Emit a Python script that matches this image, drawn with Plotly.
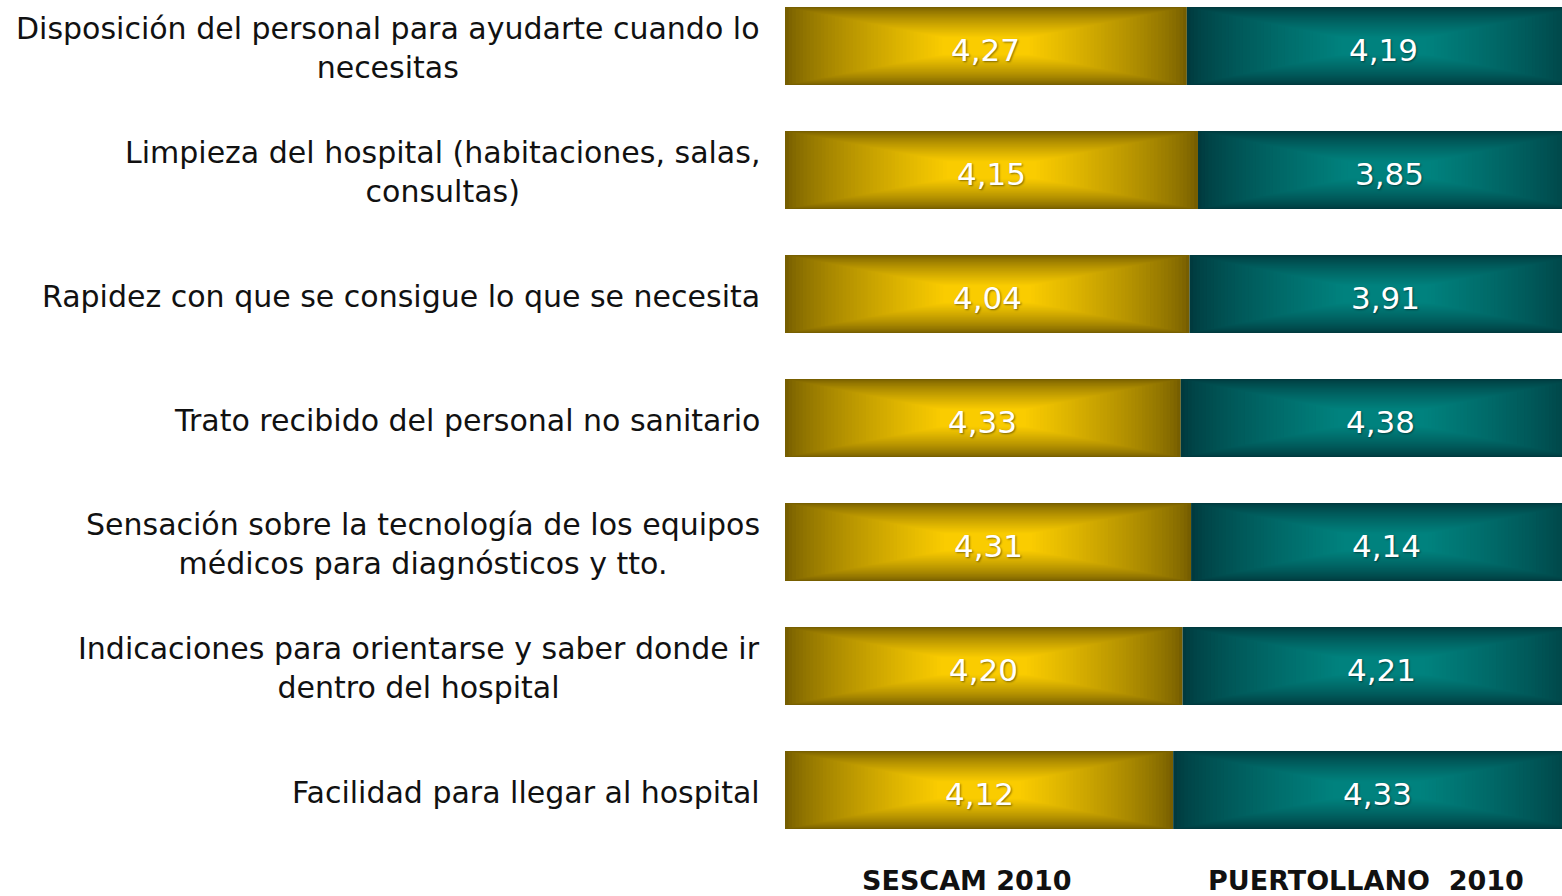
import plotly.graph_objects as go

categories = [
    "Disposición del personal para ayudarte cuando lo<br>necesitas",
    "Limpieza del hospital (habitaciones, salas,<br>consultas)",
    "Rapidez con que se consigue lo que se necesita",
    "Trato recibido del personal no sanitario",
    "Sensación sobre la tecnología de los equipos<br>médicos para diagnósticos y tto.",
    "Indicaciones para orientarse y saber donde ir<br>dentro del hospital",
    "Facilidad para llegar al hospital",
]
sescam = [4.27, 4.15, 4.04, 4.33, 4.31, 4.20, 4.12]
puertollano = [4.19, 3.85, 3.91, 4.38, 4.14, 4.21, 4.33]
series_names = ["SESCAM 2010", "PUERTOLLANO  2010"]

ycat = list(range(len(categories)))
tot = [a + b for a, b in zip(sescam, puertollano)]
pa = [a / t * 100 for a, t in zip(sescam, tot)]
pb = [b / t * 100 for b, t in zip(puertollano, tot)]

def mix(c1, c2, t):
    return "rgb({},{},{})".format(*[round(c1[i] + (c2[i] - c1[i]) * t) for i in range(3)])

gold_edge, gold_mid = (118, 94, 0), (250, 204, 0)
teal_edge, teal_mid = (0, 58, 62), (0, 130, 126)

fig = go.Figure()
BW = 0.63
N = 45
for k in range(N):
    s = 1 - k / N * 0.8
    t = (k / (N - 1)) ** 0.75
    for starts, lens, edge, mid in [([0] * len(pa), pa, gold_edge, gold_mid),
                                    (pa, pb, teal_edge, teal_mid)]:
        fig.add_trace(go.Bar(
            y=ycat, x=[l * s for l in lens],
            base=[st + l * (1 - s) / 2 for st, l in zip(starts, lens)],
            width=BW * s, orientation="h",
            marker=dict(color=mix(edge, mid, t), line=dict(width=0)),
            showlegend=False, hoverinfo="skip",
        ))

centers = [a / 2 for a in pa] + [a + b / 2 for a, b in zip(pa, pb)]
values = sescam + puertollano
for xc, yc, v in zip(centers, ycat + ycat, values):
    fig.add_annotation(
        x=xc, xref="x", y=yc, yref="y", yshift=-4,
        text="{:.2f}".format(v).replace(".", ","), showarrow=False,
        xanchor="center", yanchor="middle",
        font=dict(family="DejaVu Sans", size=31, color="white",
                  shadow="1px 1px 2px rgba(0,0,0,0.45)"),
    )

for i, c in enumerate(categories):
    fig.add_annotation(
        x=-23 / 777, xref="paper", y=i, yref="y", yshift=-2,
        text=c, showarrow=False, xanchor="right", yanchor="middle", align="center",
        font=dict(family="DejaVu Sans", size=30, color="#111111"),
    )

for xpos, name in zip([0.233, 0.748], series_names):
    fig.add_annotation(
        x=xpos, xref="paper", y=-0.013, yref="paper", text=name, showarrow=False,
        xanchor="center", yanchor="top",
        font=dict(family="DejaVu Sans", size=27, color="#111111", weight="bold"),
    )

fig.update_layout(
    width=1562, height=896,
    barmode="overlay",
    margin=dict(l=785, r=0, t=0, b=44),
    plot_bgcolor="white", paper_bgcolor="white",
    xaxis=dict(range=[0, 97.6], visible=False, fixedrange=True),
    yaxis=dict(range=[6.5, -0.371], visible=False, fixedrange=True),
    showlegend=False,
)
fig.write_html("out.html", config={"displayModeBar": False},
               post_script="document.body.style.margin='0';document.body.style.overflow='hidden';")
